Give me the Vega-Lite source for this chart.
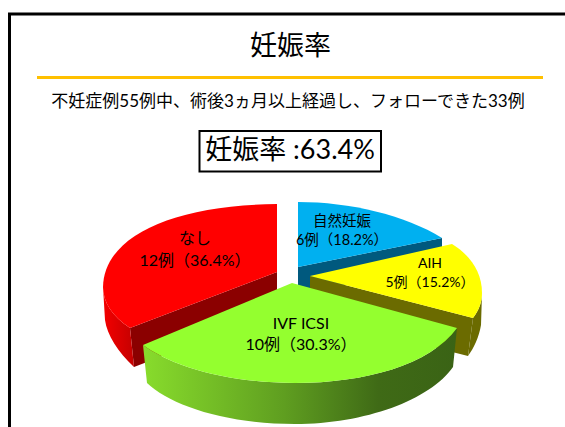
{
"$schema":"https://vega.github.io/schema/vega-lite/v6.json",
"width":565,"height":427,"padding":0,"autosize":{"type":"none"},"background":"white",
"config":{"view":{"stroke":null},"font":"Lato, 'Noto Sans CJK JP'"},
"datasets":{"slices":[
{"category":"なし","cases":12,"pct":36.4,"label":"なし\n12例（36.4%）"},
{"category":"自然妊娠","cases":6,"pct":18.2,"label":"自然妊娠\n6例（18.2%）"},
{"category":"AIH","cases":5,"pct":15.2,"label":"AIH\n5例（15.2%）"},
{"category":"IVF ICSI","cases":10,"pct":30.3,"label":"IVF ICSI\n10例（30.3%）"}
]},
"layer":[
{"data":{"values":[{"t":"frame"}]},"mark":{"type":"rect","fill":"white","stroke":"#000000","strokeWidth":3},"encoding":{"x":{"value":9.5},"x2":{"value":620},"y":{"value":14},"y2":{"value":500}}},
{"data":{"values":[{"t":"rule"}]},"mark":{"type":"rule","color":"#FFC000","strokeWidth":3},"encoding":{"x":{"value":37},"x2":{"value":543},"y":{"value":77.5}}},
{"data":{"values":[{"t":"妊娠率"}]},"mark":{"type":"text","fontSize":27,"align":"center","baseline":"middle","color":"#000000"},"encoding":{"x":{"value":290.5},"y":{"value":47},"text":{"field":"t"}}},
{"data":{"values":[{"t":"不妊症例55例中、術後3ヵ月以上経過し、フォローできた33例"}]},"mark":{"type":"text","fontSize":17,"align":"center","baseline":"middle","color":"#000000"},"encoding":{"x":{"value":288},"y":{"value":102},"text":{"field":"t"}}},
{"data":{"values":[{"t":"box"}]},"mark":{"type":"rect","fill":"white","stroke":"#000000","strokeWidth":2},"encoding":{"x":{"value":199.5},"x2":{"value":381},"y":{"value":131},"y2":{"value":171.5}}},
{"data":{"values":[{"t":"妊娠率 :63.4%"}]},"mark":{"type":"text","fontSize":27,"align":"center","baseline":"middle","color":"#000000"},"encoding":{"x":{"value":290},"y":{"value":151},"text":{"field":"t"}}},
{"data":{"name":"slices"},"layer":[
{"transform":[{"filter":"datum.category==='なし'"}],"layer":[
{"mark":{"type":"point","filled":true,"opacity":1,"strokeWidth":0,"size":4,"color":"#8B0000","shape":"M-13,-18 L-160,38 L-156,77 L-13,22 Z"}},
{"mark":{"type":"point","filled":true,"opacity":1,"strokeWidth":0,"size":4,"color":{"gradient":"linear","x1":0,"x2":1,"y1":0,"y2":0,"stops":[{"offset":0,"color":"#f40000"},{"offset":1,"color":"#c40000"}]},"shape":"M-187,-3 C-187,12 -178,26 -160,38 L-156,77 C-172,62 -183,45 -185,30 Z"}},
{"mark":{"type":"point","filled":true,"opacity":1,"strokeWidth":0,"size":4,"color":"#FF0000","shape":"M-13,-86 L-13,-18 L-160,38 C-178,26 -187,12 -187,-3 C-186,-55 -115,-85 -13,-86 Z"}}
]},
{"transform":[{"filter":"datum.category==='自然妊娠'"}],"layer":[
{"mark":{"type":"point","filled":true,"opacity":1,"strokeWidth":0,"size":4,"color":"#00597E","shape":"M8,-23 L152,-52 L152,-43 L8,13 Z"}},
{"mark":{"type":"point","filled":true,"opacity":1,"strokeWidth":0,"size":4,"color":"#00B0F0","shape":"M8,-88 C60,-88 115,-75 152,-52 L8,-23 Z"}}
]},
{"transform":[{"filter":"datum.category==='AIH'"}],"layer":[
{"mark":{"type":"point","filled":true,"opacity":1,"strokeWidth":0,"size":4,"color":"#6B6B00","shape":"M20,-14 L183,28 L178,66 L20,26 Z"}},
{"mark":{"type":"point","filled":true,"opacity":1,"strokeWidth":0,"size":4,"color":"#6B6B00","shape":"M192,3 C192,12 189,20 183,28 L178,66 C184,58 189,47 191,35 Z"}},
{"mark":{"type":"point","filled":true,"opacity":1,"strokeWidth":0,"size":4,"color":"#FFFF00","shape":"M20,-14 L162,-46 C180,-35 192,-18 192,3 C192,12 189,20 183,28 Z"}}
]},
{"transform":[{"filter":"datum.category==='IVF ICSI'"}],"layer":[
{"mark":{"type":"point","filled":true,"opacity":1,"strokeWidth":0,"size":4,"color":{"gradient":"linear","x1":0,"x2":1,"y1":0,"y2":0,"stops":[{"offset":0,"color":"#88DC2C"},{"offset":0.45,"color":"#5F9E20"},{"offset":0.75,"color":"#3F6A16"},{"offset":1,"color":"#3A6315"}]},"shape":"M-147,55 C-120,75 -65,93 5,93 C75,93 140,75 167,38 L163,77 C140,110 75,134 5,134 C-65,134 -120,115 -143,93 Z"}},
{"mark":{"type":"point","filled":true,"opacity":1,"strokeWidth":0,"size":4,"color":"#94FF2F","shape":"M2,-7 L-147,55 C-120,75 -65,93 5,93 C75,93 140,75 167,38 Z"}}
]}
],"encoding":{"x":{"value":290},"y":{"value":290}}},
{"data":{"name":"slices"},"transform":[{"filter":"datum.category==='なし'"}],"mark":{"type":"text","fontSize":16,"lineBreak":"\n","lineHeight":22,"align":"center","baseline":"middle","color":"#000000","dx":-95,"dy":-51},"encoding":{"x":{"value":290},"y":{"value":290},"text":{"field":"label"}}},
{"data":{"name":"slices"},"transform":[{"filter":"datum.category==='IVF ICSI'"}],"mark":{"type":"text","fontSize":16,"lineBreak":"\n","lineHeight":21,"align":"center","baseline":"middle","color":"#000000","dx":11,"dy":34},"encoding":{"x":{"value":290},"y":{"value":290},"text":{"field":"label"}}},
{"data":{"name":"slices"},"transform":[{"filter":"datum.category==='自然妊娠'"}],"mark":{"type":"text","fontSize":14.5,"lineBreak":"\n","lineHeight":19,"align":"center","baseline":"middle","color":"#000000","dx":52,"dy":-68},"encoding":{"x":{"value":290},"y":{"value":290},"text":{"field":"label"}}},
{"data":{"name":"slices"},"transform":[{"filter":"datum.category==='AIH'"}],"mark":{"type":"text","fontSize":14,"lineBreak":"\n","lineHeight":19,"align":"center","baseline":"middle","color":"#000000","dx":140,"dy":-26},"encoding":{"x":{"value":290},"y":{"value":290},"text":{"field":"label"}}}
]
}
